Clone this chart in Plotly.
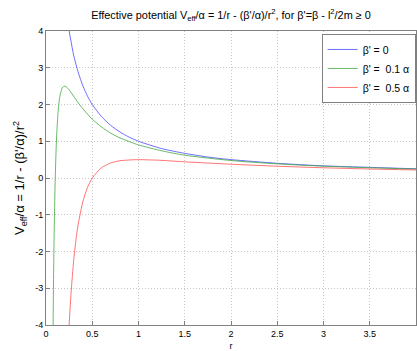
import plotly.graph_objects as go

# r values and effective potential values
r_blue = [0.25, 0.3, 0.35, 0.4, 0.45, 0.5, 0.6, 0.7, 0.8, 0.9, 1.0, 1.25, 1.5, 1.75, 2.0, 2.5, 3.0, 3.5, 4.0]
v_blue = [4.0, 3.33, 2.86, 2.5, 2.22, 2.0, 1.67, 1.43, 1.25, 1.11, 1.0, 0.8, 0.67, 0.57, 0.5, 0.4, 0.33, 0.29, 0.25]

r_green = [0.077, 0.08, 0.085, 0.09, 0.1, 0.11, 0.12, 0.13, 0.14, 0.15, 0.17, 0.18, 0.2, 0.22, 0.25, 0.3, 0.35,
           0.4, 0.5, 0.6, 0.7, 0.8, 1.0, 1.25, 1.5, 2.0, 2.5, 3.0, 3.5, 4.0]
v_green = [-4.0, -3.13, -2.08, -1.23, 0.0, 0.83, 1.39, 1.78, 2.04, 2.22, 2.42, 2.47, 2.5, 2.48, 2.4, 2.22, 2.04,
           1.88, 1.6, 1.39, 1.22, 1.09, 0.9, 0.74, 0.62, 0.475, 0.384, 0.322, 0.278, 0.244]

r_red = [0.25, 0.27, 0.3, 0.33, 0.35, 0.4, 0.45, 0.5, 0.6, 0.7, 0.8, 0.9, 1.0, 1.25, 1.5, 2.0, 2.5, 3.0, 3.5, 4.0]
v_red = [-4.0, -3.16, -2.22, -1.56, -1.23, -0.63, -0.25, 0.0, 0.28, 0.41, 0.47, 0.49, 0.5, 0.48, 0.44, 0.375, 0.32,
         0.278, 0.245, 0.219]

labels = ["β' = 0", "β' =  0.1 α", "β' =  0.5 α"]
colors = ["#4a4aff", "#40a840", "#ff5050"]

x_ticks = [0, 0.5, 1, 1.5, 2, 2.5, 3, 3.5, 4]
y_ticks = [-4, -3, -2, -1, 0, 1, 2, 3, 4]

fig = go.Figure()
for rr, vv, lab, col in zip([r_blue, r_green, r_red], [v_blue, v_green, v_red], labels, colors):
    fig.add_trace(go.Scatter(x=rr, y=vv, mode="lines", name=lab,
                             line=dict(color=col, width=0.8, shape="spline", smoothing=0.6)))

font = "Liberation Sans, Arial, sans-serif"
fig.update_layout(
    width=417, height=351,
    margin=dict(l=46, r=1, t=31, b=26),
    paper_bgcolor="white", plot_bgcolor="white",
    font=dict(family=font, size=9, color="black"),
    title=dict(text="Effective potential V<sub>eff</sub>/α = 1/r - (β'/α)/r<sup>2</sup>, for β'=β - l<sup>2</sup>/2m ≥ 0",
               x=0.554, xanchor="center", y=0.957, yanchor="middle",
               font=dict(family=font, size=10.9, color="black")),
    showlegend=True,
    legend=dict(x=0.999, xanchor="right", y=0.99, yanchor="top",
                bgcolor="white", bordercolor="#808080", borderwidth=1,
                font=dict(family=font, size=10.5, color="black"),
                tracegroupgap=0, itemwidth=30),
)
fig.update_xaxes(range=[0, 4], tickvals=x_ticks, ticktext=[f"{t:g}" for t in x_ticks],
                 showgrid=True, gridcolor="#c8c8c8", griddash="1px,2px", gridwidth=1,
                 showline=True, linecolor="#808080", linewidth=1, mirror=True,
                 ticks="inside", ticklen=4, tickcolor="#808080", zeroline=False,
                 tickfont=dict(size=9),
                 title=dict(text="r", font=dict(size=9), standoff=4))
fig.update_yaxes(range=[-4, 4], tickvals=y_ticks, ticktext=[f"{t:g}" for t in y_ticks],
                 showgrid=True, gridcolor="#c8c8c8", griddash="1px,2px", gridwidth=1,
                 showline=True, linecolor="#808080", linewidth=1, mirror=True,
                 ticks="inside", ticklen=4, tickcolor="#808080", zeroline=False,
                 tickfont=dict(size=9),
                 title=dict(text="V<sub>eff</sub>/α = 1/r - (β'/α)/r<sup>2</sup>", font=dict(size=13), standoff=7))

fig.write_html("out.html", config={"displayModeBar": False},
               post_script="document.body.style.margin='0';document.body.style.overflow='hidden';")
